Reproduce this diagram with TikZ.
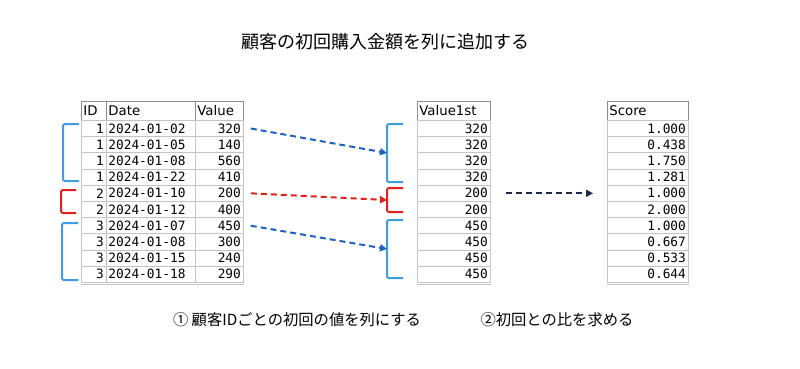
\documentclass[tikz,border=0pt]{standalone}
\usepackage{fontspec}
\usepackage{xcolor}
\usepackage{tikz}
\usetikzlibrary{arrows.meta}
\newfontfamily\jpfont{Noto Sans CJK JP}
\newfontfamily\monofont{DejaVu Sans Mono}
\newfontfamily\headfont{DejaVu Sans}
\definecolor{gridgray}{HTML}{C4C4C4}
\definecolor{headgray}{HTML}{8C8C8C}
\definecolor{bracketblue}{HTML}{3D9EE5}
\definecolor{arrowblue}{HTML}{1E62BE}
\definecolor{arrowred}{HTML}{E3211B}
\definecolor{arrownavy}{HTML}{1C2A48}

\tikzset{
  cell/.style={draw=gridgray, line width=0.8pt, inner ysep=0pt, minimum height=16.2pt, anchor=north west, font=\monofont\fontsize{12.8}{14}\selectfont},
  headcell/.style={cell, draw=headgray, minimum height=19pt, align=left, font=\headfont\fontsize{13.3}{15}\selectfont},
  bracket/.style={line width=2pt, rounded corners=2pt},
  flow/.style={line width=2pt, dash pattern=on 6pt off 4pt, -{Triangle[length=7pt, width=7pt]}}
}

\begin{document}
\begin{tikzpicture}[x=1pt, y=-1pt]
\useasboundingbox (0,0) rectangle (800,368);

\node (title) [font=\jpfont\fontsize{18}{20}\selectfont] at (385,42) {顧客の初回購入金額を列に追加する};

% headers
\node (hid) [headcell, text width=21pt, inner xsep=2pt] at (81,101) {ID};
\node (hdate) [headcell, text width=85pt, inner xsep=2pt] at (106,101) {Date};
\node (hval) [headcell, text width=44pt, inner xsep=2pt] at (195,101) {Value};
\node (hfirst) [headcell, text width=69pt, inner xsep=2pt] at (417,101) {Value1st};
\node (hscore) [headcell, text width=77pt, inner xsep=2pt] at (607,101) {Score};

% rows
\foreach \id/\dt/\val/\fst/\sc [count=\i] in {
  1/2024-01-02/320/320/1.000, 1/2024-01-05/140/320/0.438,
  1/2024-01-08/560/320/1.750, 1/2024-01-22/410/320/1.281,
  2/2024-01-10/200/200/1.000, 2/2024-01-12/400/200/2.000,
  3/2024-01-07/450/450/1.000, 3/2024-01-08/300/450/0.667,
  3/2024-01-15/240/450/0.533, 3/2024-01-18/290/450/0.644}{
  \node (id\i) [cell, text width=20pt, inner xsep=2.5pt, align=right] at (81,{120+(\i-1)*16.2}) {\id};
  \node (date\i) [cell, text width=85pt, inner xsep=2pt, align=left] at (106,{120+(\i-1)*16.2}) {\dt};
  \node (val\i) [cell, text width=43pt, inner xsep=2.5pt, align=right] at (195,{120+(\i-1)*16.2}) {\val};
  \node (first\i) [cell, text width=68pt, inner xsep=2.5pt, align=right] at (417,{120+(\i-1)*16.2}) {\fst};
  \node (score\i) [cell, text width=76pt, inner xsep=2.5pt, align=right] at (607,{120+(\i-1)*16.2}) {\sc};
}
\draw[gridgray, line width=0.8pt] ([yshift=-2pt]id10.south west) -- ([yshift=-2pt]val10.south east);
\draw[gridgray, line width=0.8pt] ([yshift=-2pt]first10.south west) -- ([yshift=-2pt]first10.south east);
\draw[gridgray, line width=0.8pt] ([yshift=-2pt]score10.south west) -- ([yshift=-2pt]score10.south east);

% brackets
\draw[bracket, bracketblue] (79,124) -- (63,124) -- (63,181) -- (79,181);
\draw[bracket, arrowred] (76,190) -- (61,190) -- (61,213) -- (76,213);
\draw[bracket, bracketblue] (78,223) -- (62,223) -- (62,280) -- (78,280);
\draw[bracket, bracketblue] (403,124) -- (387,124) -- (387,182) -- (403,182);
\draw[bracket, arrowred] (403,188) -- (387,188) -- (387,212) -- (403,212);
\draw[bracket, bracketblue] (403,220) -- (387,220) -- (387,278) -- (403,278);
\coordinate (grp1) at (387,153);
\coordinate (grp2) at (387,200);
\coordinate (grp3) at (387,249);

% arrows
\draw[flow, arrowblue] ([xshift=7pt]val1.east) -- (grp1);
\draw[flow, arrowred] ([xshift=7pt]val5.east) -- (grp2);
\draw[flow, arrowblue] ([xshift=7pt]val7.east) -- (grp3);
\draw[flow, arrownavy] ([xshift=15pt]first5.east) -- ([xshift=-14pt]score5.west);

\node (step1) [font=\jpfont\fontsize{15.3}{17}\selectfont] at (297,320) {① 顧客IDごとの初回の値を列にする};
\node (step2) [font=\jpfont\fontsize{15.3}{17}\selectfont] at (557,320) {②初回との比を求める};
\end{tikzpicture}
\end{document}
